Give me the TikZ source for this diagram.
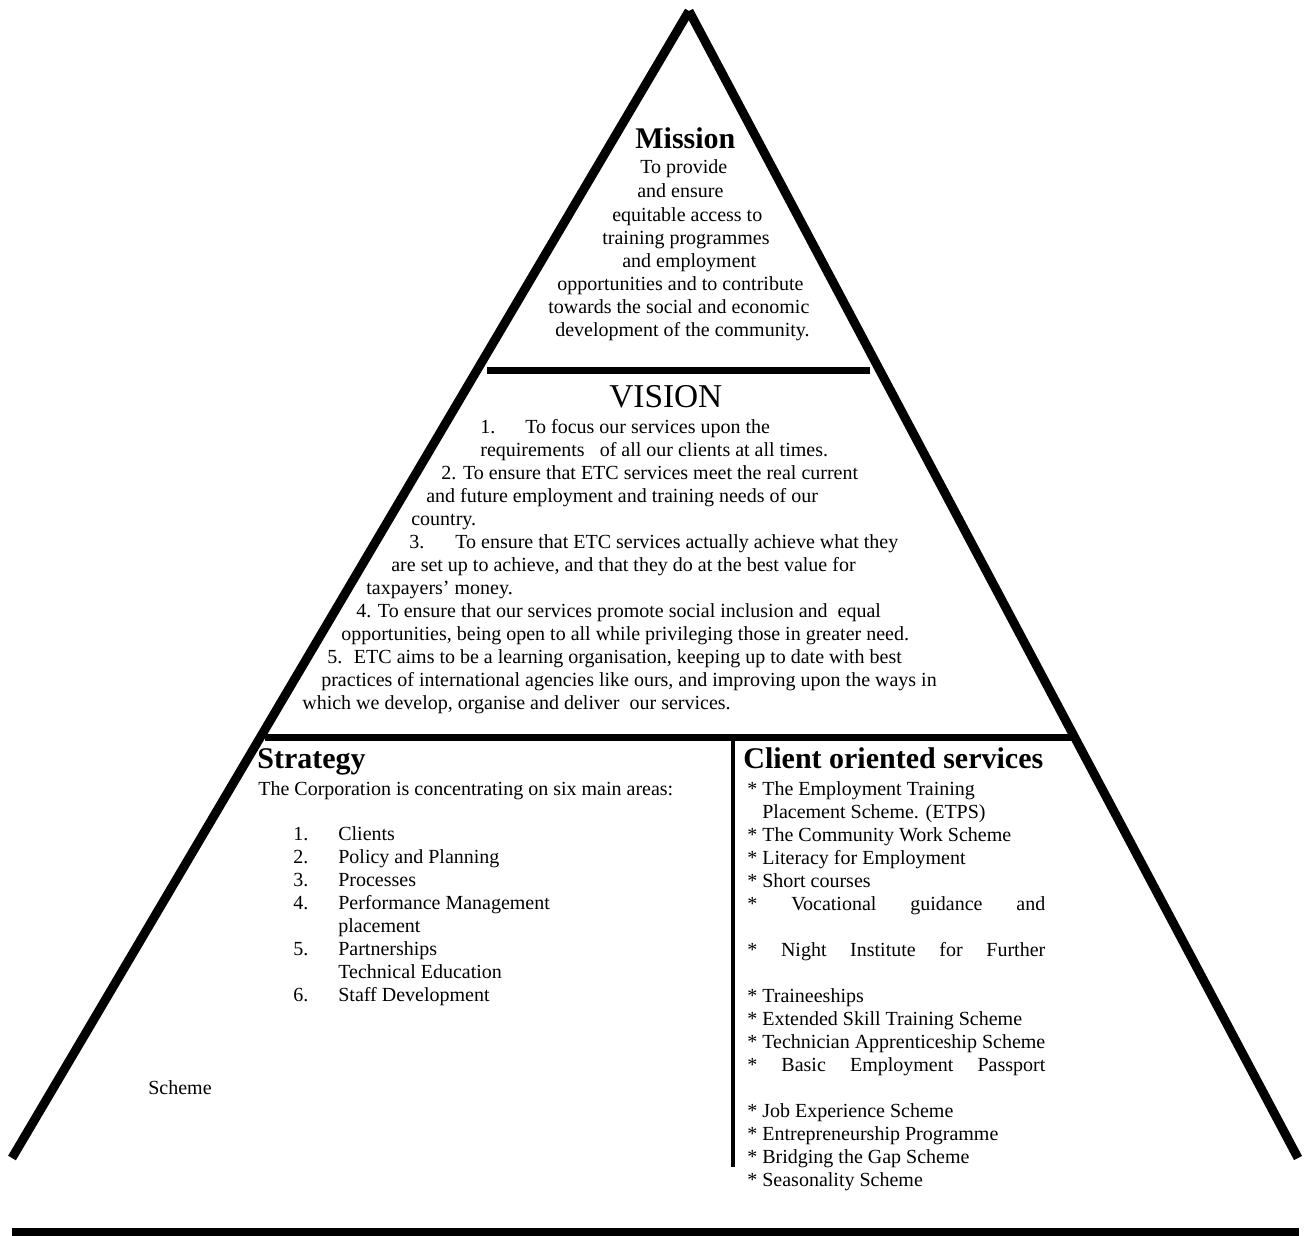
\documentclass[tikz,border=0pt]{standalone}
\usepackage{fontspec}
\setmainfont{Liberation Serif}
\usetikzlibrary{positioning}

\begin{document}
\begin{tikzpicture}[
    x=0.6pt,y=-0.6pt,
    side/.style={line width=5.4pt},
    rule/.style={line width=4.2pt},
    divider/.style={line width=2.5pt},
    body/.style={anchor=base west,inner sep=0pt,font=\fontsize{12}{13.8}\selectfont},
    head/.style={anchor=base west,inner sep=0pt,font=\fontsize{18}{20}\selectfont\bfseries}
  ]
    \useasboundingbox (0,0) rectangle (1305,1235);
    % pyramid frame
    \coordinate (apex) at (689,11);
    \coordinate (bl) at (12,1158);
    \coordinate (br) at (1298,1158);
    \draw[side] (bl) -- (apex);
    \draw[side] (br) -- (apex);
    \coordinate (r1l) at (487,370);
    \coordinate (r1r) at (870,370);
    \coordinate (r2l) at (265,737);
    \coordinate (r2r) at (1072,737);
    \coordinate (dvt) at (733,737);
    \coordinate (dvb) at (733,1167);
    \coordinate (basel) at (12,1232);
    \coordinate (baser) at (1299,1232);
    \draw[rule] (r1l) -- (r1r);
    \draw[rule] (r2l) -- (r2r);
    \draw[divider] (dvt) -- (dvb);
    \draw[line width=4.8pt] (basel) -- (baser);

    % mission
    \node[head] (mission) at (635,148) {Mission};
    \foreach \x/\y/\t [count=\i] in {
        640/173/To provide,
        637/197/and ensure,
        612/221/equitable access to,
        602/244/training programmes,
        622/267/and employment,
        557/290/opportunities and to contribute,
        548/313/towards the social and economic,
        555/336/development of the community.}
      \node[body] (m\i) at (\x,\y) {\t};

    % vision
    \node[body,font=\fontsize{20}{22}\selectfont] (vision) at (609,407) {VISION};
    \foreach \x/\y/\t [count=\i] in {
        480/433/{1.\hspace{18pt}To focus our services upon the},
        480/456/{requirements\hspace{9pt}of all our clients at all times.},
        441/479/{2. To ensure that ETC services meet the real current},
        426/502/{and future employment and training needs of our},
        411/525/{country.},
        409/548/{3.\hspace{18.6pt}To ensure that ETC services actually achieve what they},
        391/571/{are set up to achieve, and that they do at the best value for},
        366/594/{taxpayers’ money.},
        356/617/{4. To ensure that our services promote social inclusion and~ equal},
        341/640/{opportunities, being open to all while privileging those in greater need.},
        327/663/{5.~ ETC aims to be a learning organisation, keeping up to date with best},
        321/686/{practices of international agencies like ours, and improving upon the ways in},
        302/709/{which we develop, organise and deliver~ our services.}}
      \node[body] (v\i) at (\x,\y) {\t};

    % strategy
    \node[head] (strategy) at (257,768) {Strategy};
    \node[body] (intro) at (258,795) {The Corporation is concentrating on six main areas:};
    \foreach \y/\n/\t [count=\i] in {
        840/1./Clients,
        863/2./Policy and Planning,
        886/3./Processes,
        909/4./Performance Management,
        932//placement,
        955/5./Partnerships,
        978//Technical Education,
        1001/6./Staff Development}
      \node[body] (s\i) at (293,\y) {\makebox[27pt][l]{\n}\t};
    \node[body] (scheme) at (148,1094) {Scheme};

    % client oriented services
    \node[head] (client) at (743,768) {Client oriented services};
    \foreach \x/\y/\t [count=\i] in {
        747/795/{* The Employment Training},
        762/818/{Placement Scheme. (ETPS)},
        747/841/{* The Community Work Scheme},
        747/864/{* Literacy for Employment},
        747/887/{* Short courses},
        747/910/{\makebox[178.8pt][s]{* Vocational guidance and}},
        747/956/{\makebox[178.8pt][s]{* Night Institute for Further}},
        747/1002/{* Traineeships},
        747/1025/{* Extended Skill Training Scheme},
        747/1048/{* Technician Apprenticeship Scheme},
        747/1071/{\makebox[178.8pt][s]{* Basic Employment Passport}},
        747/1117/{* Job Experience Scheme},
        747/1140/{* Entrepreneurship Programme},
        747/1163/{* Bridging the Gap Scheme},
        747/1186/{* Seasonality Scheme}}
      \node[body] (c\i) at (\x,\y) {\t};
\end{tikzpicture}
\end{document}
